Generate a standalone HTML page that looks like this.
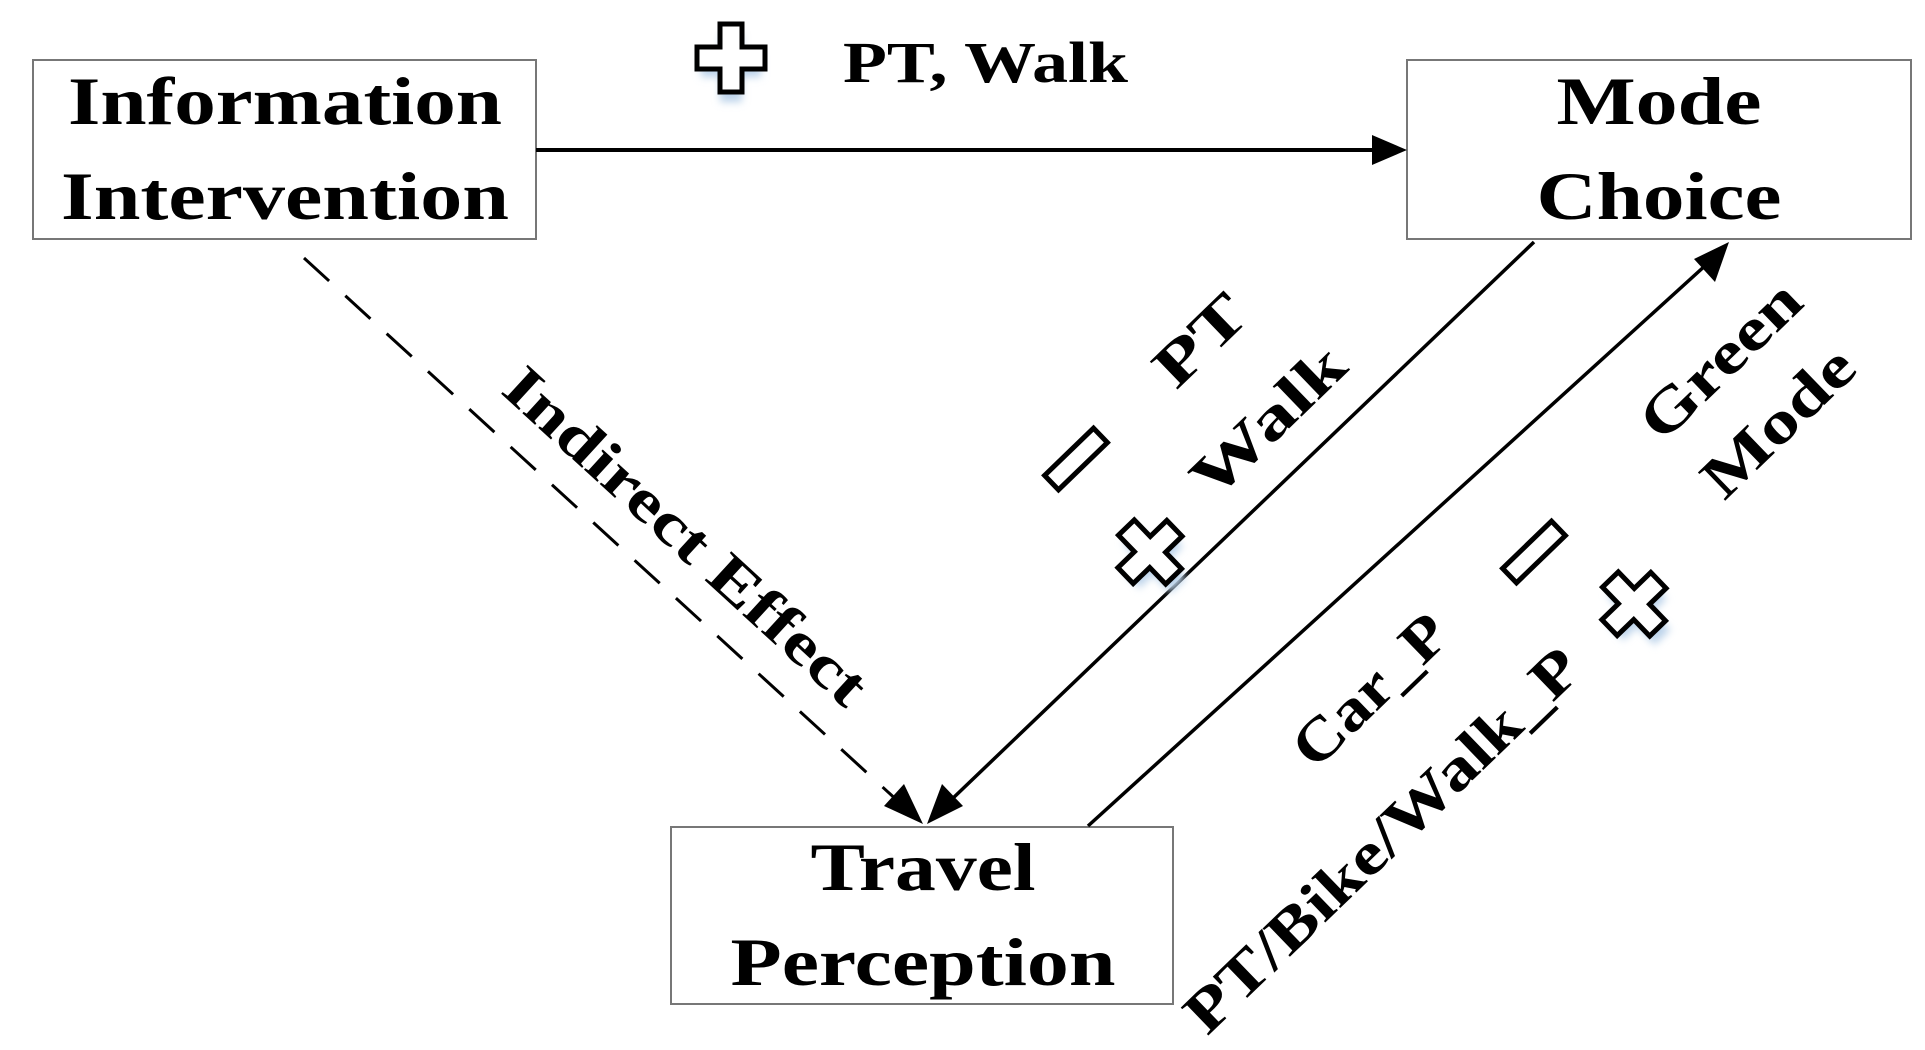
<!DOCTYPE html>
<html><head><meta charset="utf-8"><style>
html,body{margin:0;padding:0;background:#fff;width:1925px;height:1050px;overflow:hidden}
svg{display:block}
text{font-family:"Liberation Serif",serif;font-weight:bold;fill:#000}
</style></head><body>
<svg width="1925" height="1050" viewBox="0 0 1925 1050" xmlns="http://www.w3.org/2000/svg">
<defs>
<filter id="glow" x="-50%" y="-50%" width="200%" height="200%"><feGaussianBlur stdDeviation="4"/></filter>
<g id="plus"><path d="M-11,-34 H11 V-11 H34 V11 H11 V34 H-11 V11 H-34 V-11 H-11 Z" fill="#fff" stroke="#000" stroke-width="5"/></g>
<g id="minus"><rect x="-34" y="-10" width="68" height="20" fill="#fff" stroke="#000" stroke-width="5"/></g>
<g id="glowp"><path d="M-11,-30 H11 V-9 H30 V13 H11 V38 H-11 V13 H-30 V-9 H-11 Z" fill="#bcd3ea" filter="url(#glow)"/></g>
</defs>

<rect x="33" y="60" width="503" height="179" fill="#fff" stroke="#777" stroke-width="2"/>
<rect x="1407" y="60" width="504" height="179" fill="#fff" stroke="#777" stroke-width="2"/>
<rect x="671" y="827" width="502" height="177" fill="#fff" stroke="#777" stroke-width="2"/>

<text x="285" y="124" font-size="68" text-anchor="middle" textLength="434" lengthAdjust="spacingAndGlyphs">Information</text>
<text x="285" y="219" font-size="68" text-anchor="middle" textLength="448" lengthAdjust="spacingAndGlyphs">Intervention</text>
<text x="1659" y="124" font-size="68" text-anchor="middle" textLength="205" lengthAdjust="spacingAndGlyphs">Mode</text>
<text x="1659" y="219" font-size="68" text-anchor="middle" textLength="245" lengthAdjust="spacingAndGlyphs">Choice</text>
<text x="923" y="890" font-size="68" text-anchor="middle" textLength="225" lengthAdjust="spacingAndGlyphs">Travel</text>
<text x="923" y="985" font-size="68" text-anchor="middle" textLength="385" lengthAdjust="spacingAndGlyphs">Perception</text>

<line x1="536" y1="150" x2="1380" y2="150" stroke="#000" stroke-width="4"/>
<polygon points="1407,150 1372,135 1372,165" fill="#000"/>

<line x1="304" y1="258" x2="900" y2="803" stroke="#000" stroke-width="3" stroke-dasharray="34,22"/>
<polygon points="923,824 884,806 904,784" fill="#000"/>

<line x1="1534" y1="242" x2="950" y2="801" stroke="#000" stroke-width="3.5"/>
<polygon points="927,824 942,784 963,806" fill="#000"/>

<line x1="1088" y1="826" x2="1707" y2="264" stroke="#000" stroke-width="3.5"/>
<polygon points="1729,242 1715,282 1694,259" fill="#000"/>

<use href="#glowp" transform="translate(731,64)"/>
<use href="#plus" transform="translate(731,58)"/>
<text x="843" y="82" font-size="58" textLength="285" lengthAdjust="spacingAndGlyphs">PT, Walk</text>

<text font-size="60" text-anchor="middle" transform="translate(686,536) rotate(42.5)" dy="20" textLength="470" lengthAdjust="spacingAndGlyphs">Indirect Effect</text>

<text font-size="60" text-anchor="middle" transform="translate(1200,340) rotate(-44)" dy="20" textLength="105" lengthAdjust="spacingAndGlyphs">PT</text>
<text font-size="60" text-anchor="middle" transform="translate(1268,421) rotate(-44)" dy="20" textLength="190" lengthAdjust="spacingAndGlyphs">Walk</text>
<use href="#minus" transform="translate(1076,459) rotate(-44)"/>
<use href="#glowp" transform="translate(1152,558) rotate(-44)"/>
<use href="#plus" transform="translate(1150,552) rotate(-44)"/>

<text font-size="60" text-anchor="middle" transform="translate(1720,360) rotate(-44)" dy="20" textLength="200" lengthAdjust="spacingAndGlyphs">Green</text>
<text font-size="60" text-anchor="middle" transform="translate(1778,422) rotate(-44)" dy="20" textLength="188" lengthAdjust="spacingAndGlyphs">Mode</text>
<use href="#minus" transform="translate(1534,552) rotate(-44)"/>
<use href="#glowp" transform="translate(1636,610) rotate(-44)"/>
<use href="#plus" transform="translate(1634,604) rotate(-44)"/>

<text font-size="60" text-anchor="middle" transform="translate(1370,690) rotate(-44)" dy="20" textLength="192" lengthAdjust="spacingAndGlyphs">Car_P</text>
<text font-size="60" text-anchor="middle" transform="translate(1382,840) rotate(-44)" dy="20" textLength="525" lengthAdjust="spacingAndGlyphs">PT/Bike/Walk_P</text>
</svg>
</body></html>
